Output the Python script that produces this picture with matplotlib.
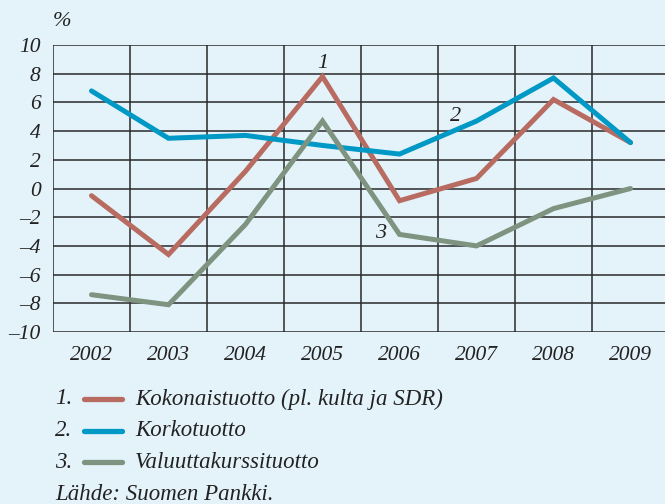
import numpy as np
import matplotlib.pyplot as plt

# -------------------------
# data
# -------------------------
years = ["2002", "2003", "2004", "2005", "2006", "2007", "2008", "2009"]
kokonais = [-0.5, -4.6, 1.2, 7.8, -0.85, 0.7, 6.2, 3.2]
korko = [6.8, 3.5, 3.7, 3.0, 2.4, 4.7, 7.7, 3.2]
valuutta = [-7.4, -8.1, -2.5, 4.7, -3.2, -4.0, -1.4, 0.0]
yticks = [10, 8, 6, 4, 2, 0, -2, -4, -6, -8, -10]
legend_labels = ["Kokonaistuotto (pl. kulta ja SDR)", "Korkotuotto", "Valuuttakurssituotto"]
source_text = "Lähde: Suomen Pankki."

BG = "#e4f2fa"
RED = "#b86b61"
BLUE = "#0099c6"
GREEN = "#7f9480"
GRID = "#2a2a2a"
TXT = "#222222"

plt.rcParams['font.family'] = ['Liberation Serif', 'DejaVu Serif']
plt.rcParams['font.style'] = 'italic'

fig = plt.figure(figsize=(6.65, 5.04), dpi=100, facecolor=BG)
ax = fig.add_axes([53 / 665, 1 - 332 / 504, 616 / 665, 287 / 504])
ax.set_facecolor(BG)

x = np.arange(len(years))
ax.set_xlim(-0.5, len(years) - 0.5)
ax.set_ylim(-10, 10)

# grid: horizontal every 2, vertical between years
for yv in yticks:
    ax.axhline(yv, color=GRID, lw=1.1, zorder=1)
for xv in np.arange(-0.5, len(years), 1.0):
    ax.axvline(xv, color=GRID, lw=1.1, zorder=1)

for vals, col in [(kokonais, RED), (korko, BLUE), (valuutta, GREEN)]:
    ax.plot(x, vals, color=col, lw=3.6, solid_capstyle='round', solid_joinstyle='miter', zorder=3)

for s in ax.spines.values():
    s.set_visible(False)

ax.set_yticks(yticks)
ax.set_yticklabels([str(v).replace("-", "\u2013") for v in yticks], fontsize=15.5)
ax.set_xticks(x)
ax.set_xticklabels(years, fontsize=15.5)
ax.tick_params(length=0, pad=10, colors=TXT)
ax.tick_params(axis='y', pad=9)

# line numbers on the chart
ax.text(3, 8.7, "1", fontsize=16, ha='center', va='center', color=TXT)
ax.text(4.73, 5.05, "2", fontsize=16, ha='center', va='center', color=TXT)
ax.text(3.75, -3.15, "3", fontsize=16, ha='center', va='center', color=TXT)

fig.text(62 / 665, 1 - 22 / 504, "%", fontsize=16, ha='center', va='center', color=TXT)

# legend drawn by hand
rows_y = [399, 431, 462]
for i, (lab, col) in enumerate(zip(legend_labels, [RED, BLUE, GREEN])):
    yy = 1 - rows_y[i] / 504
    fig.text(55 / 665, yy, f"{i + 1}.", fontsize=16.5, va='center', ha='left', color=TXT)
    fig.add_artist(plt.Line2D([84 / 665, 122 / 665], [yy, yy], color=col, lw=3.8,
                              solid_capstyle='round', transform=fig.transFigure))
    fig.text(135 / 665, yy, lab, fontsize=16.5, va='center', ha='left', color=TXT)

fig.text(55 / 665, 1 - 494 / 504, source_text, fontsize=16.5, va='center', ha='left', color=TXT)

fig.savefig("out.png", dpi=100, facecolor=BG)
